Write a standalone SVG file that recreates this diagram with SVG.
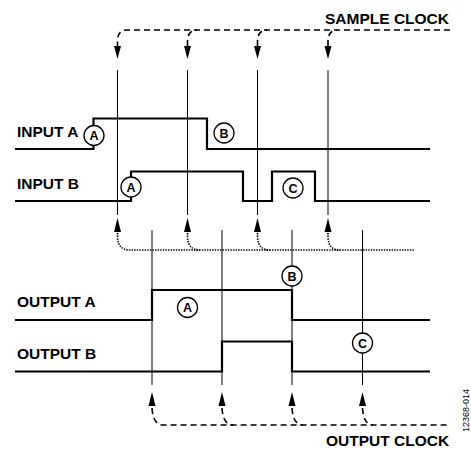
<svg xmlns="http://www.w3.org/2000/svg" width="471" height="449" viewBox="0 0 471 449">
<style>
.bg{fill:#fff}
.thin{stroke:#000;stroke-width:1;fill:none}
.sig{stroke:#000;stroke-width:2.2;fill:none;stroke-linejoin:miter}
.dash{stroke:#000;stroke-width:1.6;fill:none;stroke-dasharray:6 4}
.dot{stroke:#000;stroke-width:1.6;fill:none;stroke-dasharray:1.4 1.2}
.ah{fill:#000;stroke:none}
.lbl{font-family:"Liberation Sans",Arial,sans-serif;font-weight:bold;font-size:15.5px;fill:#000}
.cl{font-family:"Liberation Sans",Arial,sans-serif;font-weight:bold;font-size:12.5px;fill:#000;text-anchor:middle}
.circ{fill:#fff;stroke:#000;stroke-width:1.3}
.fig{font-family:"Liberation Sans",Arial,sans-serif;font-size:9px;fill:#000}
</style>
<rect class="bg" x="0" y="0" width="471" height="449"/>
<g id="connectors">
  <!-- sample clock -->
  <path class="dash" d="M450,30 H127 Q118,30 117.5,40 V46"/>
  <path class="dash" d="M187.5,46 V41 Q188,30 197,30"/>
  <path class="dash" d="M257.5,46 V41 Q258,30 267,30"/>
  <path class="dash" d="M328,46 V41 Q328.5,30 337,30"/>
  <polygon class="ah" points="114,46 121,46 117.5,59"/>
  <polygon class="ah" points="184,46 191,46 187.5,59"/>
  <polygon class="ah" points="254,46 261,46 257.5,59"/>
  <polygon class="ah" points="324.5,46 331.5,46 328,59"/>
  <line class="thin" x1="117.5" y1="70" x2="117.5" y2="215"/>
  <line class="thin" x1="187.5" y1="70" x2="187.5" y2="215"/>
  <line class="thin" x1="257.5" y1="70" x2="257.5" y2="215"/>
  <line class="thin" x1="328" y1="70" x2="328" y2="215"/>
  <polygon class="ah" points="114,232 121,232 117.5,218"/>
  <polygon class="ah" points="184,232 191,232 187.5,218"/>
  <polygon class="ah" points="254,232 261,232 257.5,218"/>
  <polygon class="ah" points="324.5,232 331.5,232 328,218"/>
  <path class="dot" d="M117.5,233 V237 Q118,250 130,250 H415"/>
  <path class="dot" d="M187.5,233 V237 Q188,250 200,250"/>
  <path class="dot" d="M257.5,233 V237 Q258,250 270,250"/>
  <path class="dot" d="M328,233 V237 Q328.5,250 340,250"/>
  <!-- output clock -->
  <line class="thin" x1="152" y1="230" x2="152" y2="385"/>
  <line class="thin" x1="222" y1="230" x2="222" y2="385"/>
  <line class="thin" x1="292" y1="230" x2="292" y2="385"/>
  <line class="thin" x1="362.5" y1="230" x2="362.5" y2="385"/>
  <polygon class="ah" points="148.5,406 155.5,406 152,392"/>
  <polygon class="ah" points="218.5,406 225.5,406 222,392"/>
  <polygon class="ah" points="288.5,406 295.5,406 292,392"/>
  <polygon class="ah" points="359,406 366,406 362.5,392"/>
  <path class="dash" d="M152,408 Q153,425 163,425 H450"/>
  <path class="dash" d="M222,408 Q223,425 233,425"/>
  <path class="dash" d="M292,408 Q293,425 303,425"/>
  <path class="dash" d="M362.5,408 Q363.5,425 373,425"/>
</g>
<g id="input-a">
  <path class="sig" d="M15,149 H93.5 V118.5 H207 V149 H430"/>
  <text class="lbl" x="17" y="137">INPUT A</text>
</g>
<g id="input-b">
  <path class="sig" d="M15,201 H131 V171.5 H243 V201 H272 V171.5 H315 V201 H430"/>
  <text class="lbl" x="17" y="189">INPUT B</text>
</g>
<g id="output-a">
  <path class="sig" d="M15,320 H152 V290 H292 V320 H430"/>
  <text class="lbl" x="17" y="307">OUTPUT A</text>
</g>
<g id="output-b">
  <path class="sig" d="M15,371.5 H222 V341.5 H292 V371.5 H430"/>
  <text class="lbl" x="17" y="359">OUTPUT B</text>
</g>
<g id="sample-clock-label"><text class="lbl" x="325" y="24">SAMPLE CLOCK</text></g>
<g id="output-clock-label"><text class="lbl" x="326" y="446">OUTPUT CLOCK</text></g>
<g id="marker-ia-a"><circle class="circ" cx="94" cy="135.5" r="10"/><text class="cl" x="94" y="140">A</text></g>
<g id="marker-ia-b"><circle class="circ" cx="224" cy="133" r="10"/><text class="cl" x="224" y="137.5">B</text></g>
<g id="marker-ib-a"><circle class="circ" cx="131" cy="187" r="10"/><text class="cl" x="131" y="191.5">A</text></g>
<g id="marker-ib-c"><circle class="circ" cx="293" cy="188" r="10"/><text class="cl" x="293" y="192.5">C</text></g>
<g id="marker-o-b"><circle class="circ" cx="292" cy="276" r="10"/><text class="cl" x="292" y="280.5">B</text></g>
<g id="marker-o-a"><circle class="circ" cx="187.5" cy="307.5" r="10"/><text class="cl" x="187.5" y="312">A</text></g>
<g id="marker-o-c"><circle class="circ" cx="362.5" cy="343" r="10"/><text class="cl" x="362.5" y="347.5">C</text></g>
<g id="figure-id"><text class="fig" transform="translate(469,432) rotate(-90)">12368-014</text></g>
</svg>
